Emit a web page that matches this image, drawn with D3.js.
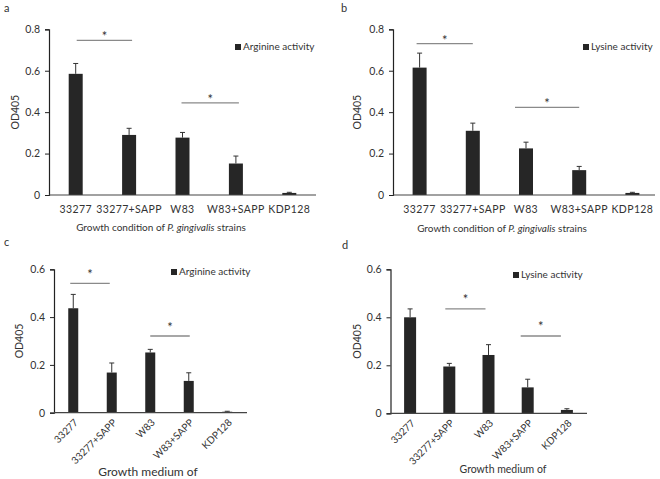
<!DOCTYPE html>
<html><head><meta charset="utf-8">
<script src="https://cdn.jsdelivr.net/npm/d3@7"></script>
<style>
html,body{margin:0;padding:0;background:#fff;}
svg{display:block;}
text{font-family:Lato,"Noto Sans",sans-serif;fill:#333;}
</style></head>
<body>
<svg id="chart" width="660" height="479"></svg>
<script>
// ---- data ----
const categories = ["33277","33277+SAPP","W83","W83+SAPP","KDP128"];
const argininePanelA = [0.585, 0.290, 0.277, 0.152, 0.010];
const arginineErrA   = [0.050, 0.032, 0.025, 0.036, 0.003];
const lysinePanelB   = [0.615, 0.310, 0.225, 0.120, 0.010];
const lysineErrB     = [0.070, 0.037, 0.030, 0.018, 0.003];
const argininePanelC = [0.437, 0.168, 0.252, 0.133, 0.004];
const arginineErrC   = [0.058, 0.040, 0.013, 0.034, 0.002];
const lysinePanelD   = [0.400, 0.195, 0.243, 0.108, 0.014];
const lysineErrD     = [0.035, 0.013, 0.043, 0.034, 0.005];
const yTicksTop    = [0, 0.2, 0.4, 0.6, 0.8];
const yTicksBottom = [0, 0.2, 0.4, 0.6];
const yTickLabelsTop    = ["0","0.2","0.4","0.6","0.8"];
const yTickLabelsBottom = ["0","0.2","0.4","0.6"];
// significance comparisons: [index i, index j, bar height in data units]
const sigA = [[0,1,0.747],[2,3,0.445]];
const sigB = [[0,1,0.731],[2,3,0.423]];
const sigC = [[0,1,0.541],[2,3,0.321]];
const sigD = [[1,2,0.435],[3,4,0.322]];

// ---- layout ----
const panels = [
  {tag:"a", tagX:4, tagY:12, values:argininePanelA, errs:arginineErrA, sig:sigA,
   legend:"Arginine activity", x0:49, step:53.4, xEnd:316, y0:195, y1:29.3, ymax:0.8, ticks:yTicksTop, tickLabels:yTickLabelsTop,
   barW:14, rotate:false, legX:235, legY:44, sigDx:[[1,3],[-1,3]], starGap:7, titleX:161, titleY:231, titleSerif:false, odX:19},
  {tag:"b", tagX:341, tagY:12, values:lysinePanelB, errs:lysineErrB, sig:sigB,
   legend:"Lysine activity", x0:393, step:53.2, xEnd:655, y0:195, y1:29.3, ymax:0.8, ticks:yTicksTop, tickLabels:yTickLabelsTop,
   barW:14, rotate:false, legX:583, legY:44, sigDx:[[-3,0],[-11,0]], starGap:7, titleX:502, titleY:232, titleSerif:false, odX:361},
  {tag:"c", tagX:4, tagY:246, values:argininePanelC, errs:arginineErrC, sig:sigC,
   legend:"Arginine activity", x0:54, step:38.5, xEnd:247, y0:412.7, y1:269.3, ymax:0.6, ticks:yTicksBottom, tickLabels:yTickLabelsBottom,
   barW:10, rotate:true, legX:171, legY:269, sigDx:[[-3,-2],[0,1]], starGap:12, titleX:148, titleY:476, titleSerif:true, odX:23},
  {tag:"d", tagX:342, tagY:249, values:lysinePanelD, errs:lysineErrD, sig:sigD,
   legend:"Lysine activity", x0:390.5, step:39.2, xEnd:587, y0:413.3, y1:269.3, ymax:0.6, ticks:yTicksBottom, tickLabels:yTickLabelsBottom,
   barW:12, rotate:true, legX:513, legY:272, sigDx:[[-4,-3],[-7,-6]], starGap:13, titleX:503, titleY:473, titleSerif:false, odX:361}
];

const svg = d3.select("#chart");
const barColor = "#262626";

panels.forEach(p => {
  const g = svg.append("g");
  const x = d3.scaleBand().domain(categories).range([p.x0, p.x0 + p.step*categories.length]).paddingInner(0).paddingOuter(0);
  const y = d3.scaleLinear().domain([0, p.ymax]).range([p.y0, p.y1]);
  const cx = c => x(c) + x.bandwidth()/2;

  // panel tag
  g.append("text").attr("x", p.tagX).attr("y", p.tagY).attr("font-size", 11).text(p.tag);

  // y axis
  const yAxis = d3.axisLeft(y).tickValues(p.ticks).tickSize(4).tickPadding(5)
    .tickFormat((d,i) => p.tickLabels[i]);
  const ya = g.append("g").attr("transform", `translate(${p.x0},0)`).call(yAxis);
  ya.select(".domain").attr("stroke", "#222").attr("stroke-width", 1.2);
  ya.selectAll(".tick line").attr("stroke", "#222");
  ya.selectAll(".tick text").attr("font-size", 10.5).attr("fill", "#333").attr("font-family", "Lato, sans-serif");

  // y title
  g.append("text").attr("transform", `translate(${p.odX},${(p.y0+p.y1)/2}) rotate(-90)`)
    .attr("text-anchor", "middle").attr("font-size", 10.5).text("OD405");

  // bars
  g.selectAll("rect.bar").data(categories).join("rect").attr("class","bar")
    .attr("x", c => cx(c) - p.barW/2)
    .attr("width", p.barW)
    .attr("y", (c,i) => y(p.values[i]))
    .attr("height", (c,i) => p.y0 - y(p.values[i]))
    .attr("fill", barColor);

  // error bars (upper only)
  categories.forEach((c,i) => {
    const top = y(p.values[i] + p.errs[i]);
    g.append("line").attr("x1", cx(c)).attr("x2", cx(c))
      .attr("y1", y(p.values[i])).attr("y2", top).attr("stroke", "#333").attr("stroke-width", 1);
    g.append("line").attr("x1", cx(c)-2.5).attr("x2", cx(c)+2.5)
      .attr("y1", top).attr("y2", top).attr("stroke", "#333").attr("stroke-width", 1);
  });

  // x baseline
  g.append("line").attr("x1", p.x0).attr("x2", p.xEnd).attr("y1", p.y0).attr("y2", p.y0)
    .attr("stroke", "#444").attr("stroke-width", 1.2);

  // x tick labels
  if (!p.rotate) {
    g.selectAll("text.xl").data(categories).join("text").attr("class","xl")
      .attr("x", c => cx(c)).attr("y", p.y0 + 17.5).attr("text-anchor","middle").attr("font-size", 10.5)
      .attr("letter-spacing", 0.4)
      .text(c => c);
  } else {
    g.selectAll("text.xl").data(categories).join("text").attr("class","xl")
      .attr("transform", c => `translate(${cx(c)+3},${p.y0 + 8}) rotate(-45)`)
      .attr("text-anchor","end").attr("font-size", 10).attr("dy", "0.35em")
      .text(c => c);
  }

  // axis title
  if (p.rotate) {
    g.append("text").attr("x", p.titleX).attr("y", p.titleY).attr("text-anchor","middle")
      .attr("font-size", p.titleSerif ? 12 : 10.5)
      .attr("font-family", p.titleSerif ? "'Liberation Serif', 'DejaVu Serif', serif" : "Lato, sans-serif")
      .text("Growth medium of");
  } else {
    const t = g.append("text").attr("x", p.titleX).attr("y", p.titleY).attr("text-anchor","middle").attr("font-size", 10);
    t.append("tspan").text("Growth  condition of ");
    t.append("tspan").attr("font-style","italic").text("P. gingivalis");
    t.append("tspan").text(" strains");
  }

  // significance
  p.sig.forEach((s, k) => {
    const [i, j, v] = s;
    const ly = y(v);
    const xa = cx(categories[i]) + p.sigDx[k][0];
    const xb = cx(categories[j]) + p.sigDx[k][1];
    g.append("line").attr("x1", xa).attr("x2", xb).attr("y1", ly).attr("y2", ly)
      .attr("stroke", "#8a8a8a").attr("stroke-width", 1.3);
    g.append("text").attr("x", (xa+xb)/2).attr("y", ly - p.starGap + 8).attr("text-anchor","middle")
      .attr("font-size", 13).attr("font-family", "'DejaVu Sans', sans-serif").attr("fill", "#555").text("*");
  });

  // legend
  g.append("rect").attr("x", p.legX).attr("y", p.legY).attr("width", 6).attr("height", 6).attr("fill", barColor);
  g.append("text").attr("x", p.legX + 8).attr("y", p.legY + 6).attr("font-size", 10).text(p.legend);
});
</script>
</body></html>
